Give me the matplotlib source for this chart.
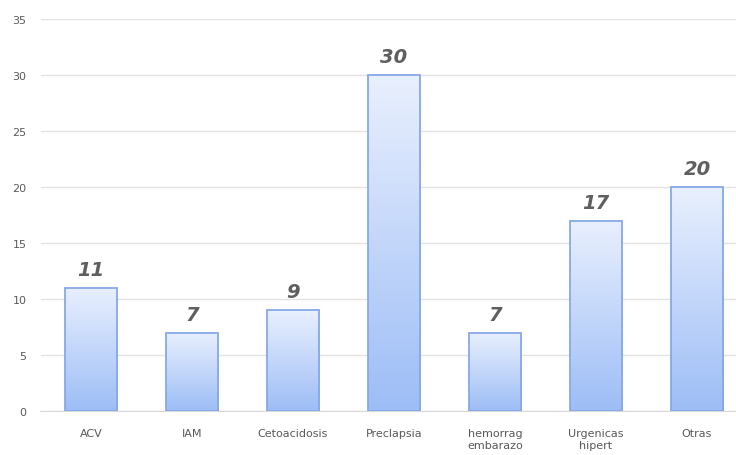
import numpy as np
import matplotlib
matplotlib.use("Agg")
import matplotlib.pyplot as plt
from matplotlib.colors import LinearSegmentedColormap

categories = ["ACV", "IAM", "Cetoacidosis", "Preclapsia", "hemorrag\nembarazo", "Urgenicas\nhipert", "Otras"]
values = [11, 7, 9, 30, 7, 17, 20]
yticks = [0, 5, 10, 15, 20, 25, 30, 35]

fig = plt.figure(figsize=(7.36, 4.56), dpi=100)
ax = fig.add_axes([40.5 / 736, 44 / 456, (736 - 40.5) / 736, 392 / 456])

x = np.arange(len(categories))
width = 0.52
bars = ax.bar(x, values, width=width, color="none", edgecolor="#86a9e6", linewidth=1.3, zorder=3)

# vertical gradient fill, light at the top, stronger blue at the bottom
cmap = LinearSegmentedColormap.from_list("grad", ["#9dbdf6", "#e9f0fe"])
grad = np.linspace(0, 1, 256).reshape(-1, 1)
for b in bars:
    x0, y0 = b.get_x(), b.get_y()
    w, h = b.get_width(), b.get_height()
    im = ax.imshow(grad, cmap=cmap, aspect="auto", origin="lower",
                   extent=[x0, x0 + w, y0, y0 + h], zorder=2)
    im.set_clip_path(b)

for xi, v in zip(x, values):
    ax.text(xi, v + 0.8, str(v), ha="center", va="bottom", fontsize=14,
            fontweight="bold", fontstyle="italic", color="#5f5f5f")

ax.set_xlim(-0.5, 6.386)
ax.set_ylim(0, 35)
ax.set_yticks(yticks)
ax.set_xticks(x)
ax.set_xticklabels(categories, fontsize=8, color="#595959", linespacing=1.3)
ax.tick_params(axis="y", labelsize=8, labelcolor="#595959", length=0, pad=10)
ax.tick_params(axis="x", length=0, pad=12)
ax.grid(axis="y", color="#e3e3e3", linewidth=1, zorder=0)
for s in ["top", "right", "left"]:
    ax.spines[s].set_visible(False)
ax.spines["bottom"].set_color("#d9d9d9")
ax.set_axisbelow(True)

fig.savefig("out.png", dpi=100)
